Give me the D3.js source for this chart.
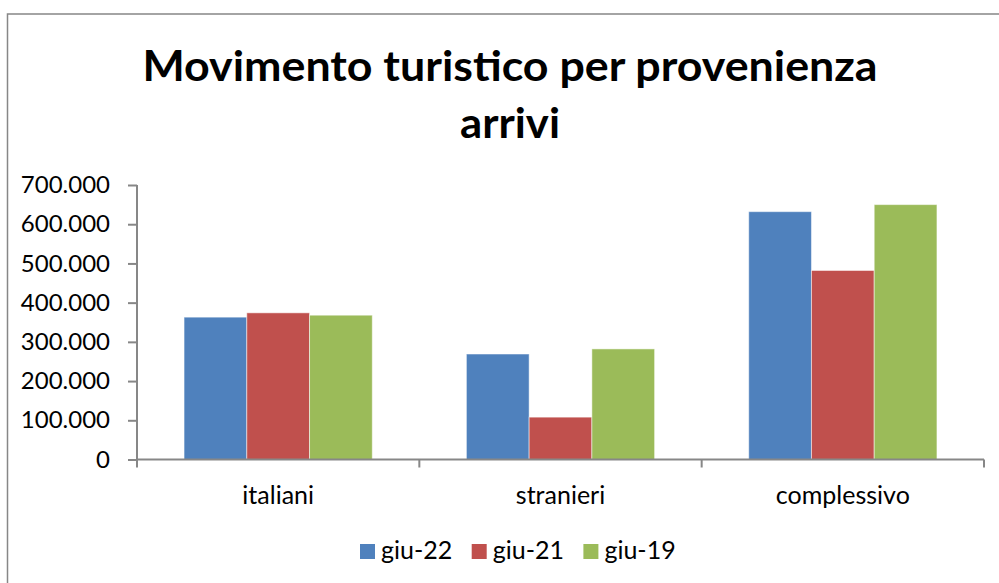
<!DOCTYPE html>
<html>
<head>
<meta charset="utf-8">
<script src="https://cdn.jsdelivr.net/npm/d3@7"></script>
<style>
	html, body { margin: 0; padding: 0; background: #fff; }
	svg { display: block; font-family: Lato, "Open Sans", sans-serif; }
</style>
</head>
<body>
<svg id="svg_main" width="999" height="583"></svg>
<script>
var categories = ["italiani", "stranieri", "complessivo"];
var series = ["giu-22", "giu-21", "giu-19"];
var giu22 = [363000, 269000, 632000];
var giu21 = [374000, 108000, 482000];
var giu19 = [368000, 282000, 650000];
var yTicks = [0, 100000, 200000, 300000, 400000, 500000, 600000, 700000];
var colors = ["#4F81BD", "#C0504D", "#9BBB59"];

var values = [giu22, giu21, giu19];
var margin = { top: 185, left: 137, right: 15, bottom: 123.5 };

var itFmt = d3.formatLocale({ decimal: ",", thousands: ".", grouping: [3], currency: ["€", ""] }).format(",d");

function main() {
	var svg = d3.select("#svg_main");
	var W = 999, H = 583;
	var width = W - margin.left - margin.right,
		height = H - margin.top - margin.bottom;

	// chart border (right side falls outside the picture)
	svg.append("rect")
		.attr("x", 7.5).attr("y", 14)
		.attr("width", 1010).attr("height", 600)
		.attr("fill", "none")
		.attr("stroke", "#878787")
		.attr("stroke-width", 1.5);

	svg.append("text")
		.attr("x", 510).attr("y", 81)
		.attr("text-anchor", "middle")
		.attr("font-weight", "bold")
		.attr("font-size", "42px")
		.attr("textLength", 735)
		.attr("lengthAdjust", "spacingAndGlyphs")
		.text("Movimento turistico per provenienza");
	svg.append("text")
		.attr("x", 510).attr("y", 138)
		.attr("text-anchor", "middle")
		.attr("font-weight", "bold")
		.attr("font-size", "42px")
		.attr("textLength", 100)
		.attr("lengthAdjust", "spacingAndGlyphs")
		.text("arrivi");

	var g = svg.append("g")
		.attr("transform", `translate(${margin.left}, ${margin.top})`);

	var x0 = d3.scaleBand().domain(categories).range([0, width]).padding(0);
	var gap = x0.bandwidth() / 3;
	var x1 = d3.scaleBand().domain(series).range([gap / 2, x0.bandwidth() - gap / 2]).padding(0);
	var y = d3.scaleLinear().domain([0, 700000]).range([height, 0]);

	var groups = g.selectAll(".grp")
		.data(categories)
		.enter().append("g")
		.attr("class", "grp")
		.attr("transform", d => `translate(${x0(d)}, 0)`);

	groups.selectAll("rect")
		.data((c, i) => series.map((s, j) => ({ s: s, j: j, v: values[j][i] })))
		.enter().append("rect")
		.attr("x", d => x1(d.s))
		.attr("width", x1.bandwidth())
		.attr("y", d => y(d.v))
		.attr("height", d => height - y(d.v))
		.attr("fill", d => colors[d.j])
		.attr("stroke", "#ffffff")
		.attr("stroke-opacity", 0.5)
		.attr("stroke-width", 1);

	var yAxis = d3.axisLeft(y).tickValues(yTicks).tickFormat(itFmt).tickSize(9).tickPadding(18);
	var ya = g.append("g").attr("class", "yAxis").call(yAxis);
	ya.select(".domain").remove();
	ya.append("line")
		.attr("x1", 0).attr("x2", 0).attr("y1", 0).attr("y2", height + 8)
		.attr("stroke", "#878787").attr("stroke-width", 2);
	ya.selectAll(".tick line").attr("stroke", "#878787").attr("stroke-width", 2);
	ya.selectAll(".tick text")
		.attr("font-size", "24px")
		.attr("font-family", "Lato, sans-serif")
		.attr("fill", "#000");

	var xAxis = d3.axisBottom(x0).tickSize(0).tickPadding(27);
	var xa = g.append("g").attr("class", "xAxis")
		.attr("transform", `translate(0, ${height})`)
		.call(xAxis);
	xa.select(".domain").attr("stroke", "#878787").attr("stroke-width", 2).attr("d", `M0,0H${width}`);
	xa.selectAll(".tick text")
		.attr("font-size", "25px")
		.attr("font-family", "Lato, sans-serif")
		.attr("fill", "#000");
	// category separators
	xa.selectAll(".sep")
		.data(categories.slice(1).concat(["end"]))
		.enter().append("line")
		.attr("x1", (d, i) => x0.bandwidth() * (i + 1))
		.attr("x2", (d, i) => x0.bandwidth() * (i + 1))
		.attr("y1", 0).attr("y2", 8)
		.attr("stroke", "#878787").attr("stroke-width", 2);

	// legend
	var legend = svg.append("g").attr("class", "legend")
		.attr("transform", "translate(360, 544)");
	var item = legend.selectAll(".item")
		.data(series)
		.enter().append("g")
		.attr("transform", (d, i) => `translate(${i * 111.7}, 0)`);
	item.append("rect")
		.attr("width", 15).attr("height", 15)
		.attr("fill", (d, i) => colors[i]);
	item.append("text")
		.attr("x", 21).attr("y", 15)
		.attr("font-size", "25px")
		.text(d => d);
}

main();
</script>
</body>
</html>
